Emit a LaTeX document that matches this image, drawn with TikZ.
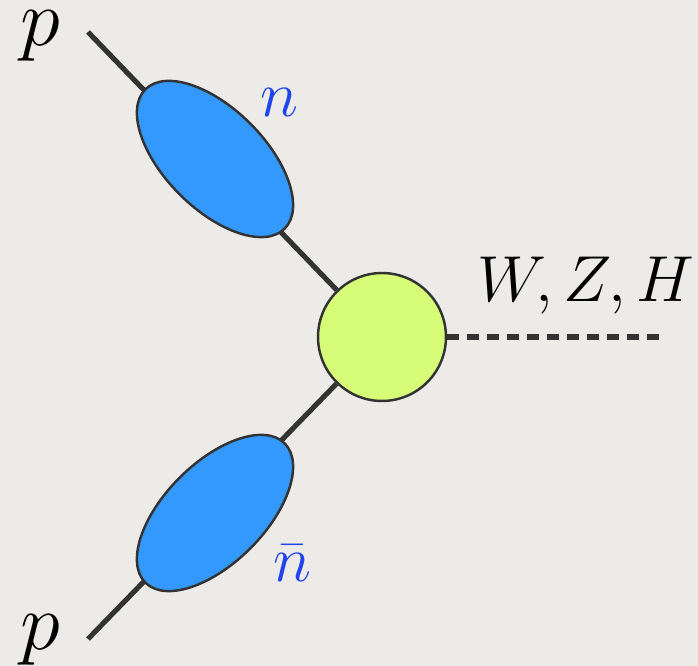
\documentclass[tikz,border=0pt]{standalone}
\usepackage{fix-cm}
\usetikzlibrary{shapes.geometric, backgrounds, positioning}

\definecolor{paper}{RGB}{236,235,232}
\definecolor{blob}{RGB}{51,153,255}
\definecolor{hard}{RGB}{214,252,120}
\definecolor{ink}{RGB}{51,51,51}
\definecolor{dirn}{RGB}{32,68,238}

\begin{document}
\begin{tikzpicture}[x=0.02cm, y=0.02cm,
    beam/.style={draw=ink, line width=2.9pt},
    blobnode/.style={draw=ink, line width=1.4pt, fill=blob, ellipse, inner sep=0pt,
        minimum width=3.94cm, minimum height=2cm},
    bigp/.style={font=\fontsize{46}{50}\selectfont, inner sep=0pt},
    lbl/.style={font=\fontsize{37}{40}\selectfont, inner sep=0pt}]
    \useasboundingbox (0,0) rectangle (698,666);
    \begin{scope}[on background layer]
        \fill[paper] (0,0) rectangle (698,666);
    \end{scope}

    % Hard vertex
    \node[draw=ink, line width=1.4pt, fill=hard, circle, inner sep=0pt,
        minimum size=2.56cm] (vtx) at (382,329) {};

    % Collinear sectors
    \node[blobnode, rotate=-45] (nblob) at (215,507) {};
    \node[blobnode, rotate=45] (nbblob) at (215,153) {};

    % Free ends of the proton lines
    \coordinate (pa) at (88,634);
    \coordinate (pb) at (88,27);
    \coordinate (bos) at (667,329);

    % Labels
    \node[bigp] (plabA) at (40,630) {$p$};
    \node[bigp] (plabB) at (40,26) {$p$};
    \node[lbl, text=dirn] (nlab) at (279,563) {$n$};
    \node[lbl, text=dirn] (nblab) at (292,103) {$\bar{n}$};
    \node[lbl, anchor=base] (boslab) at (586,364) {$W, Z, H$};

    \begin{scope}[on background layer]
        \draw[beam] (pa) -- (vtx);
        \draw[beam] (pb) -- (vtx);
    \end{scope}
    \draw[beam, dash pattern=on 0.24cm off 0.16cm] (vtx) -- (bos);
\end{tikzpicture}
\end{document}
